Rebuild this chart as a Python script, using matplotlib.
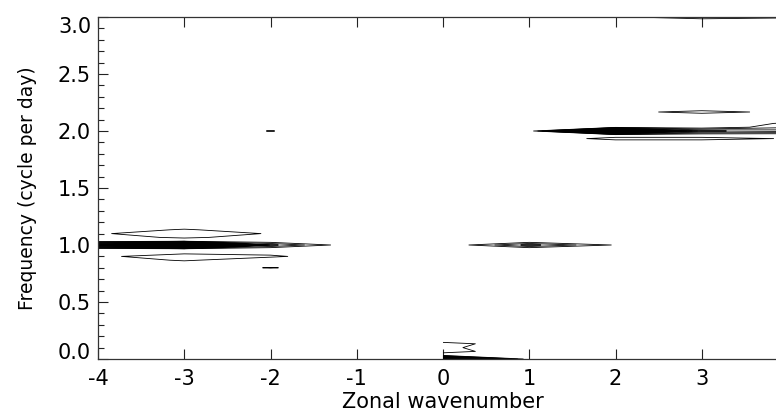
import numpy as np
import matplotlib
matplotlib.use("Agg")
import matplotlib.pyplot as plt
from matplotlib.ticker import MultipleLocator, FixedLocator

plt.rcParams['font.family'] = ['DejaVu Sans']
plt.rcParams['axes.unicode_minus'] = False

# ---- data -------------------------------------------------------------
wavenumbers = [-4, -3, -2, -1, 0, 1, 2, 3, 4]
freq_resolution = 1.0 / 30.0           # cycles per day
n_freq = 91                            # 0 ... 3.0 cpd
NaN = np.nan

# spectral power; rows not listed are zero
# frequency (cpd): power at wavenumber -4 ... 4
power_rows = {
    0.000: [0, 0, 0, NaN, 15, 0, 0, 0, 0],
    0.033: [0, 0, 0, NaN, 0, 0, 0, 0, 0],
    0.067: [0, 0, 0, NaN, 1.6, 0, 0, 0, 0],
    0.100: [0, 0, 0, NaN, 1.3, 0, 0, 0, 0],
    0.133: [0, 0, 0, NaN, 1.6, 0, 0, 0, 0],
    0.167: [0, 0, 0, NaN, 0, 0, 0, 0, 0],
    0.800: [0, 0, 1.1, 0, 0, 0, 0, 0, 0],
    0.867: [0, 1.2, 0, 0, 0, 0, 0, 0, 0],
    0.900: [0.7, 1.8, 1.25, 0, 0, 0, 0, 0, 0],
    0.933: [0, 0.6, 0.5, 0, 0, 0, 0, 0, 0],
    1.000: [10, 80, 3.3, 0, 0, 3.33, 0.88, 0, 0],
    1.067: [0.5, 1.2, 0.5, 0, 0, 0, 0, 0, 0],
    1.100: [0.85, 1.8, 0.9, 0, 0, 0, 0, 0, 0],
    1.133: [0, 1.2, 0, 0, 0, 0, 0, 0, 0],
    1.933: [0, 0, 0, 0, 0, 0, 1.5, 1.5, 0.9],
    2.000: [0, 0, 1.05, 0, 0, 0, 20, 4.2, 3.5],
    2.033: [0, 0, 0, 0, 0, 0, 0, 0, 1.8],
    2.067: [0, 0, 0, 0, 0, 0, 0, 0, 1.2],
    2.167: [0, 0, 0, 0, 0, 0, 0.5, 1.5, 0.6],
    2.500: [0, 0, 0, 0, 0, 0, 0, 0, 1.15],
    3.000: [0, 0, 0, 0, 0, 0, 0.8, 1.9, 1.3],
}

contour_levels = np.arange(1, 100)
x_ticks = [-4, -3, -2, -1, 0, 1, 2, 3]
y_ticks = [0.0, 0.5, 1.0, 1.5, 2.0, 2.5, 3.0]
y_ticklabels = ['0.0', '0.5', '1.0', '1.5', '2.0', '2.5', '3.0']

# ---- grid ---------------------------------------------------------------
frequencies = np.arange(n_freq) * freq_resolution
power = np.zeros((n_freq, len(wavenumbers)))
for f, row in power_rows.items():
    power[int(round(f / freq_resolution))] = row
power = np.ma.masked_invalid(power)

# ---- figure -------------------------------------------------------------
fig = plt.figure(figsize=(7.76, 4.13), dpi=100)
ax = fig.add_axes([98 / 776, 54 / 413, 690 / 776, 342 / 413])

ax.contour(wavenumbers, frequencies, power, levels=contour_levels,
           colors='black', linewidths=0.6)

ax.set_xlim(-4, 4)
ax.set_ylim(0, 3.0)
ax.xaxis.set_major_locator(FixedLocator(x_ticks))
ax.set_yticks(y_ticks)
ax.set_yticklabels(y_ticklabels)
ax.yaxis.set_minor_locator(MultipleLocator(0.1))

ax.tick_params(axis='x', which='both', direction='in', top=True, bottom=True,
               length=7, width=0.8, labelsize=15, pad=7, colors='#222222',
               labelcolor='black')
ax.tick_params(axis='y', which='major', direction='in', left=True, right=True,
               length=7, width=0.8, labelsize=15, pad=5, colors='#222222',
               labelcolor='black')
ax.tick_params(axis='y', which='minor', direction='in', left=True, right=True,
               length=4, width=0.8, colors='#222222')

labels = ax.get_yticklabels()
labels[0].set_verticalalignment('baseline')
labels[-1].set_verticalalignment('top')

for s in ax.spines.values():
    s.set_linewidth(0.9)
    s.set_color('#333333')

ax.set_xlabel('Zonal wavenumber', fontsize=15, labelpad=2)
ax.set_ylabel('Frequency (cycle per day)', fontsize=13.5, labelpad=15)

fig.savefig('out.png', dpi=100)
